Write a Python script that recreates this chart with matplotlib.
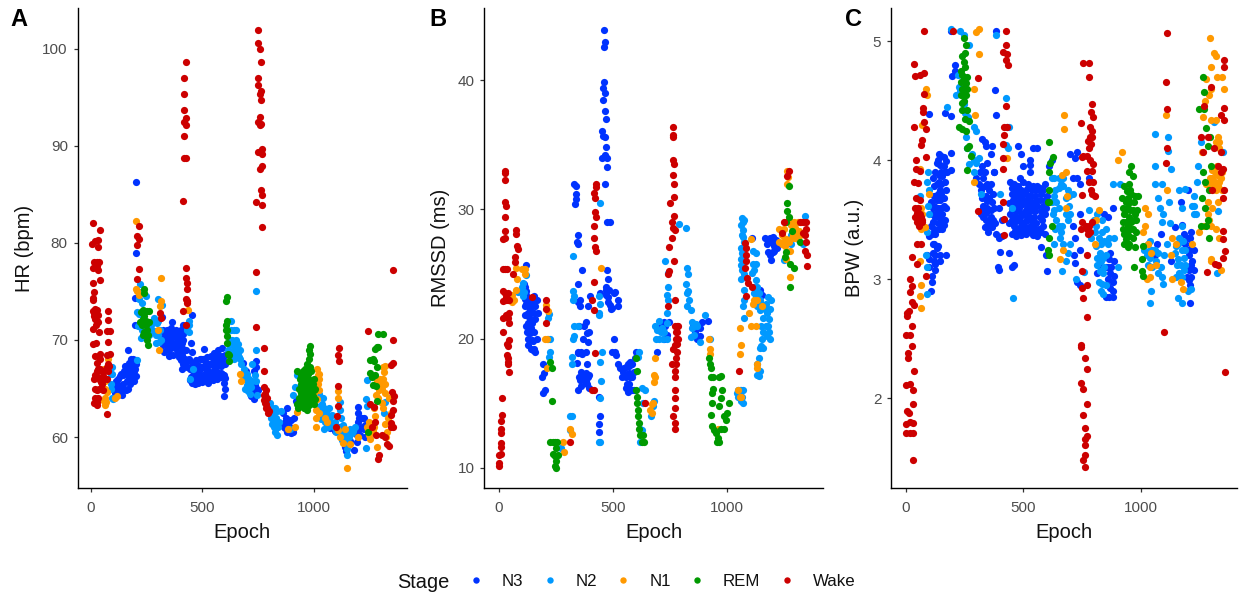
import matplotlib
matplotlib.use('Agg')
import matplotlib.pyplot as plt
from matplotlib.lines import Line2D

plt.rcParams['font.family'] = ['Liberation Sans', 'DejaVu Sans']

stages = ['N3', 'N2', 'N1', 'REM', 'Wake']
stage_colors = ['#0033FF', '#0099FF', '#FF9900', '#009900', '#CC0000']

# panel A, (epoch, HR)
hr_n3 = [(200,86.3),(200,79),(198,74.3),(198,71.5),(165,69),(105,65),(110,64.5),(115,65.5),(120,66),(125,64.6),
    (130,65.3),(135,66.5),(140,64.3),(145,65.5),(150,66.8),(155,64.8),(160,65.8),(165,67),(165,65),(170,66.2),
    (175,67.2),(175,65.5),(180,68),(185,66.6),(185,67.5),(190,68),(195,66.8),(195,65.8),(200,67.5),(200,66.3),
    (320,72.4),(362,71.8),(455,72.6),(412,71.5),(320,70.5),(325,69.5),(330,68.8),(335,70),(340,71),(345,69.2),
    (350,68.3),(355,70.3),(360,71.2),(365,69.5),(370,68.5),(375,70.5),(380,71),(385,69.8),(390,68.8),(395,70.6),
    (400,69.5),(405,71),(410,68.5),(415,70),(405,67.9),(420,68),(415,67.5),(410,67),(425,69),(430,67.2),
    (447,69.7),(452,68.8),(440,68),(443,67),(448,66.2),(455,65.6),(460,67.4),(463,66.2),(468,65.5),(470,67.9),
    (475,66.8),(480,65.6),(483,67.3),(488,68),(492,66.4),(497,65.7),(500,67.2),(507,69.1),(505,68),(510,66.5),
    (515,65.9),(518,67.6),(522,68.2),(526,66.8),(530,66),(535,67.5),(538,68.3),(542,66.7),(547,65.9),(550,67.4),
    (553,68.7),(557,67),(560,66.2),(565,68.2),(568,67.3),(572,69),(575,66.4),(580,68.3),(583,67.3),(587,69.2),
    (590,66.5),(593,67.9),(597,66.4),(597,64.2),(600,65),(598,65.6),(600,66.1),(684,67.6),(695,66.8),(705,66),
    (715,65.4),(725,64.6),(739,67.8),(740,67.2),(730,66.8),(745,65),(750,64.8),(735,65.4),(720,64.2),(734,63.9),
    (860,62.5),(870,61.5),(880,60.5),(900,60.4),(905,60.5),(890,61.8),(880,63),(910,62),(870,60.9),(850,61.2),
    (920,63.7),(1095,60.6),(1075,60.9),(1198,63.1),(1205,62),(1200,61.5),(1215,61),(1210,60.2),(1190,60.8),(1195,59.5),
    (1140,59),(1145,58.6),(1230,61.2),(1225,62),(1230,60),(1150,60),(1165,59.6),(1180,58.7),(1120,61)]
hr_n3 += [(112,65.8),(118,64.8),(128,66.3),(133,64.9),(143,66.4),(148,65),(158,66.6),(152,67.3),(168,65.8),(172,67.6),
    (178,66.5),(182,67.2),(188,66),(192,67.4),(198,67),(203,67.9),(325,71),(332,70.4),(338,69.5),(343,70.5),
    (348,70),(352,69),(358,69.8),(362,70.6),(368,70.3),(372,69.4),(378,69.2),(383,70.4),(388,70.2),(392,69.5),
    (398,68.7),(402,70.4),(408,69.7),(412,70.6),(418,69),(422,67.6),(395,68.2),(402,68),(410,69.2),(445,65.9),
    (452,67.6),(458,66.4),(465,67),(472,66.2),(478,67.3),(485,66.3),(490,67),(495,68),(502,66.2),(508,67.3),
    (513,67.1),(520,66.5),(524,67.5),(528,67.4),(533,66.6),(537,66.4),(544,67.6),(548,68.1),(552,66.4),(555,67.9),
    (562,67.3),(566,66.7),(570,68),(577,67.5),(582,66.6),(586,68),(590,67.5),(595,68.4),(478,65.9),(505,65.8),
    (525,65.6),(545,66.3),(565,66),(585,66.2),(600,67.5),(600,68.5),(865,61),(875,62),(885,61.4),(895,61),
    (900,61.8),(1205,60.8),(1215,62),(1195,60.2),(1225,60.8),(1200,62.5)]
hr_n2 = [(742,75),(220,75.8),(245,74.5),(301,74.2),(205,72.9),(215,74.2),(225,74.9),(213,71.4),(230,71),(225,70.2),
    (270,71.5),(280,72),(285,70.9),(295,71.7),(300,70.5),(310,71),(320,73.6),(290,69.7),(305,69.8),(315,70),
    (430,71),(440,71.5),(440,70.8),(95,67.2),(95,66.5),(90,65.5),(95,64),(100,63.9),(208,67.9),(615,69),
    (625,68.5),(630,71),(630,72),(635,70),(640,69),(650,71),(650,70),(660,69.6),(670,69),(665,68.2),
    (640,68),(655,68.5),(675,67.5),(685,67),(700,66.5),(710,66),(720,65.2),(740,65.8),(745,64.3),(742,69),
    (725,67.5),(700,65.4),(690,66),(805,63.5),(815,63),(820,62.5),(810,62),(825,61.5),(830,60.9),(835,60.2),
    (830,62),(845,61.5),(855,62.7),(905,64.3),(915,65.2),(925,66.4),(930,63.2),(895,60.8),(1025,64.4),(1040,64),
    (1030,63.2),(1045,63),(1055,62.5),(1035,61.9),(1050,61.5),(1065,61),(1075,61.7),(1060,62.8),(1070,63),(1090,61),
    (1100,60.5),(1045,60.8),(1120,63.6),(1118,62.8),(1122,62),(1130,61.2),(1125,60.4),(1125,59.7),(1140,59.9),(1150,60.6),
    (1155,60),(1150,58.8),(1150,58.2),(1170,60.4),(1185,61),(1240,65.9),(1235,63.9),(1240,63.2),(1235,58.9),(1320,63.6),
    (1315,62.5),(460,67),(445,66)]
hr_n2 += [(625,70),(640,71),(645,69.5),(635,68.7),(625,69.5),(650,69),(660,68.7),(670,68),(680,66.5),(690,65),
    (705,64.7),(715,64.4),(725,65.8),(735,66.4),(812,61.3),(820,61),(828,60.5),(840,61),(815,62),(825,63),
    (835,62.7),(1038,63.4),(1048,62.3),(1040,62.8),(1058,62),(1058,61.3),(1068,62),(1080,62.3),(1085,61.4),(1095,61.5),
    (1105,61),(1130,60),(1135,60.7),(1145,59.4),(1160,60),(1165,60.8),(1175,60.6),(272,71),(285,72.3),(300,72),
    (262,70.5),(245,71),(90,66.5),(88,65),(215,72.7),(230,73.8),(292,70.5),(440,72)]
hr_n1 = [(200,82.3),(200,75.3),(215,74.6),(313,74),(313,76.4),(60,64.9),(65,65.8),(65,64),(65,63.3),(60,63.7),
    (60,67),(75,68),(110,64),(115,64.2),(205,75),(312,73.5),(300,71),(305,69),(430,74),(435,73.1),(668,66.5),
    (675,65.8),(885,60.8),(915,61),(925,62.6),(1015,67),(1025,66.5),(1020,65.5),(1025,64.8),(1015,63.9),(1000,64.5),
    (1010,62),(1010,61),(1025,62.5),(1050,62),(1060,61.6),(1110,64.7),(1110,64),(1110,60.7),(1120,60),(1130,59.4),
    (1150,56.8),(1165,59.3),(1140,60.8),(1200,60),(1240,61),(1250,61.5),(1255,59.8),(1270,63),(1285,59),(1275,62.2),
    (1285,65.8),(1295,64.8),(1300,66),(1310,67.2),(1305,65),(1305,63.5),(1320,65.5),(1315,66.7),(1320,61.3),(1325,60),
    (1335,62),(1327,60.5),(1320,67.3),(1280,64.3),(1340,64)]
hr_n1 += [(70,64.6),(62,65),(68,63.6),(1260,61.3),(1270,61),(1245,60.7),(1290,64),(1298,65.5),(1312,66),(1318,64.5),
    (1310,63),(1345,62.5),(1025,66),(1018,66.4),(1012,62.8),(1250,60.2),(1265,60.6)]
hr_rem = [(240,75.3),(238,74.8),(235,73.1),(225,72.9),(240,72.5),(250,73),(260,73),(220,71.8),(230,72),(245,71.5),
    (250,71),(235,70.5),(255,70.5),(255,69.5),(260,71.8),(610,74.4),(608,74),(605,71.5),(610,71),(612,70.4),
    (610,69.7),(615,68.6),(620,67.8),(925,66.8),(945,66.4),(960,67),(970,67.5),(980,68),(982,68.6),(985,69.4),
    (980,69),(935,65),(945,65.5),(955,65.8),(965,66.1),(975,66.5),(990,66.8),(925,63.4),(935,64),(945,64.5),
    (955,64.9),(965,65.2),(975,65.6),(985,65.9),(995,65.5),(1005,65),(930,63),(945,63.3),(955,63.6),(965,63.9),
    (975,64.3),(985,64.7),(995,64.2),(1005,63.9),(960,63),(975,63.2),(985,63.4),(970,62.8),(1000,63.4),(1310,70.6),
    (1290,70.6),(1275,69.1),(1285,69.3),(1290,69.3),(1255,67.9),(1265,68),(1270,67.8),(1285,67.2),(1255,66.6),(1260,66.2),
    (1275,66.4),(1265,65.4),(1280,65.3),(1285,63.7),(1245,60.5)]
hr_rem += [(232,72.2),(238,71.8),(242,73),(228,71.5),(248,72),(240,70.8),(250,70),(235,72.8),(940,66),(950,65),
    (960,66.5),(970,65),(980,65),(940,63.8),(950,64),(960,64.5),(970,64),(980,64),(990,64),(990,65.3),
    (965,63.3),(955,63),(950,66.8),(985,67.2),(1000,66),(975,67),(1000,64.8),(612,72),(605,71),(620,68.5)]
hr_wake = [(9,82),(39,81.3),(33,80.3),(3,79.9),(18,80.2),(33,79.6),(25,78),(15,78),(37,78),(7,77.4),
    (25,77.6),(33,77.2),(39,76.2),(9,75.9),(15,74.9),(9,74.3),(7,74.1),(25,73.1),(15,72.8),(33,72.6),
    (18,72.2),(33,71.9),(7,71.1),(37,70.8),(22,69.7),(7,69.6),(40,68.6),(18,68.3),(28,67.6),(18,66.4),
    (33,66.2),(40,65.9),(25,64.8),(33,64),(28,63.3),(15,63.5),(76,73),(76,72.1),(85,70.9),(73,70.9),
    (76,69.8),(85,68.6),(70,68.5),(78,67.5),(60,66.8),(76,66.8),(55,66.3),(70,66),(50,65.5),(70,62.4),
    (215,81.7),(208,80.7),(215,80.4),(208,79.8),(215,77.3),(208,76.3),(313,72.3),(308,72.8),(425,71.5),(412,73),
    (427,74.2),(433,73.8),(427,98.6),(419,97),(419,95.3),(419,93.7),(427,92.9),(419,92.5),(427,92.1),(419,91),
    (419,88.7),(427,88.7),(412,84.3),(427,77.4),(427,76.4),(433,75.9),(433,75.2),(433,74),(748,101.9),(748,100.6),
    (757,100),(763,98.6),(748,97),(750,96.3),(763,95.7),(757,95.3),(763,94.7),(757,93),(748,92.5),(763,92.2),
    (757,92.1),(769,89.7),(748,89.4),(769,89.2),(769,87.9),(757,87.6),(763,85.5),(769,84.9),(742,84.2),(769,83.9),
    (769,81.6),(742,77),(1355,77.2),(743,71.3),(775,69.2),(775,66.8),(775,65.2),(785,64.8),(775,64.3),(790,64),
    (780,63.5),(785,63),(795,62.5),(1112,69.2),(1107,68.5),(1112,67.8),(1110,65.3),(1110,63.2),(1105,62.2),(1100,61),
    (1245,70.9),(1255,63.4),(1270,63.1),(1260,61),(1280,60.2),(1275,61.5),(1290,57.7),(1295,58.2),(1330,59.3),(1337,59.1),
    (1355,70),(1355,67.6),(1348,67.4),(1350,64.6),(1360,64.2),(1355,63.7),(1355,62.8),(1345,62.3),(1345,61.4),(1355,61),
    (1345,61),(1305,60.2),(1320,60)]
hr_wake += [(12,72.5),(20,73.2),(28,72),(10,73),(22,71.5),(15,66),(25,66.8),(35,65),(45,65.7),(55,64.8),
    (20,65),(30,67),(40,67),(20,64),(25,63.6),(50,66.8),(60,66),(72,67.2),(80,67.3),(42,68),(782,64.4),
    (778,63.8),(788,63.4),(785,64),(792,63),(800,62.7)]

# panel B, (epoch, RMSSD)
rm_n3 = [(459,43.9),(467,43),(460,42.6),(462,39.9),(455,39.4),(463,39),(456,38.5),(465,37.6),(470,37),(452,36.1),
    (455,35.7),(465,35.6),(468,34.8),(450,34),(463,34.2),(472,34),(473,33.3),(465,32),(330,32),(337,31.8),(337,31.2),
    (338,30.8),(333,30.4),(347,28),(344,27.5),(347,27.3),(475,29),(485,29),(475,25.3),(477,24.6),(470,24),(468,23.4),
    (480,23.2),(478,22.8),(485,22.6),(490,22.3),(470,23.8),(345,24.2),(362,25.3),(347,22.8),(355,23),(355,22.5),
    (120,25.7),(115,24),(120,23.7),(115,23.1),(130,23),(120,22.7),(115,22.5),(115,21.8),(120,21),(122,20.5),
    (130,20.7),(125,20),(128,19.5),(135,21.3),(140,20.8),(145,21.2),(155,20.5),(150,19.8),(150,19.1),(160,19),
    (155,23.3),(160,22.5),(170,22),(145,22.5),(165,23),(195,18),(197,17.3),(190,17),(200,16),(195,15.8),
    (340,18.1),(350,21),(345,19),(345,18.9),(360,19),(372,21),(383,21.3),(385,20.4),(390,19.7),(362,18.8),
    (385,18),(382,17.3),(350,17),(345,16),(360,16.3),(370,17.2),(395,17.2),(395,16.2),(380,16.7),(440,15.5),
    (445,14),(440,13.4),(438,12.8),(505,20),(497,19),(510,19),(515,18.7),(520,18),(530,17.7),(545,17.4),
    (555,16.2),(570,17.9),(580,18),(560,17.2),(570,16.5),(575,17),(585,16),(595,18.5),(590,16),(600,19),
    (400,23.3),(390,22.5),(442,23.5),(520,22.5),(522,23),(510,23.6),(497,22.4),(505,23.5),(695,19),(710,21),
    (730,21),(735,20.3),(725,20),(725,21.3),(745,21.3),(850,21),(860,20.5),(870,20),(880,20.2),(880,20.8),(890,21.3),
    (915,21.4),(1145,23.8),(1155,23.4),(1110,27.8),(1165,27.8),(1190,27.8),(1195,27.5),(1205,27.2),(1215,27.6),
    (1220,27),(1200,26.7),(1195,26.1)]
rm_n3 += [(125,22),(135,22.3),(130,21.7),(140,22.7),(150,23),(155,22),(160,21.5),(125,21.2),(135,20.4),(145,19.9),
    (155,19.2),(140,19.2),(165,20),(110,24.2),(118,23.4),(540,17),(550,17.7),(555,17),(560,16.5),(565,18),
    (575,16),(580,17),(565,15.9),(555,17.8),(570,17.3),(585,17),(575,18.2),(585,18),(590,17.4),(355,16.8),
    (375,16.7),(385,16.5),(390,17),(360,17.4),(475,23.7),(482,23.8),(370,20),(395,20.5),(380,19),(1175,27.3),
    (1180,26.7),(1190,26.5),(1205,26.8),(1185,27.5),(1200,27.9)]
rm_n2 = [(325,26.4),(325,23.7),(330,23.3),(325,23),(445,30.5),(440,23.3),(440,22),(440,21.8),(120,24.9),(100,24),
    (105,23.3),(85,23.6),(95,23.7),(110,23.6),(105,24.3),(330,21),(345,21),(330,20.2),(325,20),(322,18.6),
    (320,18),(445,22.7),(450,19),(445,18.2),(447,16.7),(445,15.4),(442,12),(440,12),(215,20),(225,20),
    (225,19),(218,18.6),(215,21.6),(220,21.9),(310,14),(318,14),(310,12.9),(272,11.5),(615,19),(610,18.6),
    (625,16.2),(640,16),(630,15),(620,13),(625,12.9),(617,12),(665,14),(680,15.2),(675,14.8),(690,20),
    (685,21),(700,21.4),(700,20),(710,20.5),(720,20),(735,20),(735,22),(740,23),(740,24),(740,25.1),
    (730,26),(735,23.4),(790,28.9),(820,28.6),(825,25.5),(830,25),(820,24.2),(825,23.5),(835,23),(840,22.2),
    (845,21.3),(865,21.1),(855,20.3),(840,20.1),(880,19.7),(905,21.8),(925,20),(1050,16),(1060,16),(1070,16),
    (1050,15.5),(1060,15.2),(1070,15),(1065,29.3),(1075,29.2),(1060,28.8),(1070,28.4),(1065,28),(1075,27.5),(1060,27),
    (1070,26.7),(1060,26.2),(1075,26),(1065,25.3),(1060,24.6),(1080,24.8),(1075,23.8),(1075,23),(1072,22.5),(1075,21.6),
    (1115,26.8),(1125,26.6),(1115,25.8),(1110,25.1),(1125,24.5),(1120,24),(1125,23.2),(1130,22.5),(1145,23),(1145,22.2),
    (1160,21.6),(1170,21),(1180,21),(1185,20.5),(1190,20),(1155,20),(1150,19.4),(1145,19.3),(1140,18.5),(1130,18),
    (1130,17.2),(1145,17.5),(1140,17.1),(1190,22.3),(1195,23),(1180,23.2),(1170,22.7),(1280,28),(1300,28.5),(1340,29.5),
    (1335,27.3),(1250,26.1)]
rm_n2 += [(1068,29),(1072,27.9),(1065,26.6),(1062,25.7),(1075,25),(1055,16),(1065,15.5),(1045,15.8),(845,20.8),(855,21),
    (870,21),(1120,25.3),(1125,25.8),(1130,24),(1140,23.5),(1150,22.7),(1165,22.3),(1175,22),(1185,21.5),(1150,21),
    (1160,20.5),(1175,20.2),(1160,19.3),(695,20.7),(715,20.8),(725,20.5),(735,21.2),(825,22.5),(830,23.7),(1120,23.5),
    (1130,23.4),(1265,27.4),(1280,27.3),(1295,28.7),(1310,27.7)]
rm_n1 = [(75,25.5),(100,25.4),(115,25.4),(115,25),(80,24.6),(75,23.8),(55,23.4),(65,23),(55,22.8),(205,22.6),
    (215,22.1),(200,20),(210,20),(210,17.7),(448,25.5),(280,12),(283,11.2),(310,13),(320,12.6),(662,14.5),
    (672,14.9),(670,14.2),(675,15),(680,17.2),(682,17),(680,16.6),(683,18.5),(920,20),(925,19.2),(925,18.8),
    (960,13),(1050,16),(1055,15.5),(1060,15.5),(1055,20.8),(1060,19.5),(1055,18.8),(1120,23),(1125,21),(1130,18),
    (1130,17.7),(1105,27.7),(1115,22.7),(1105,21),(1155,22.5),(1130,23),(1095,22),(1230,27.5),(1240,28),(1250,28.5),
    (1255,27.2),(1265,33),(1268,32.5),(1262,32),(1270,29.2),(1290,28),(1305,28),(1310,29),(1320,28),(1285,27.8),
    (1275,26.8),(1260,26.2),(1275,24.8),(1230,28.5),(1245,27.5),(1325,29)]
rm_n1 += [(1280,28.8),(1295,29),(1300,27.8),(1315,28.3),(1260,27.7),(1250,27.3),(1240,27.3),(1270,27.5),(1300,28.6)]
rm_rem = [(225,18.2),(232,17.7),(232,15.2),(225,12),(235,12),(245,12),(255,12),(250,11.5),(235,11.1),(245,10.9),
    (260,11),(250,10.5),(245,10.1),(250,10),(600,18.5),(605,17.5),(600,16),(605,15.5),(605,15),(610,14.5),
    (610,14),(615,13.5),(612,13),(620,12.5),(630,12.5),(625,12),(635,12),(920,18.5),(925,18),(930,17.7),
    (930,17),(940,17),(940,16.1),(935,15.8),(935,15),(965,17),(975,17.1),(980,16),(975,15.4),(965,14.8),
    (930,14.1),(935,13.2),(945,12.9),(950,12.7),(960,12.3),(955,12),(965,12),(975,13),(985,13),(995,13.7),
    (1000,14.2),(1010,15),(985,14),(1270,31.8),(1265,30.5),(1262,29.9),(1270,29.4),(1260,29),(1285,28.3),(1260,26.7),
    (1255,26.3),(1275,25.8),(1295,25.5),(1275,24),(1320,27.5)]
rm_wake = [(0,10.1),(0,10.4),(0,11),(9,11.1),(9,11.6),(9,11.9),(9,12.7),(9,13),(9,13.6),(15,14.1),(15,15.4),
    (45,17.4),(41,18),(41,18.2),(37,18.7),(41,18.5),(41,19.4),(45,19.9),(37,19.6),(19,20.5),(45,21.2),(41,21.6),
    (19,21.6),(31,21.8),(45,22),(31,23),(19,22.9),(45,23),(26,23.5),(41,23.5),(26,33),(26,32.8),(26,32.3),(26,30.6),
    (32,30.3),(26,29.4),(76,28.4),(76,28.1),(26,28.3),(26,27.8),(19,27.7),(77,27.2),(82,26.9),(70,26.3),(70,25.9),
    (26,25.4),(19,25.4),(37,25.4),(60,25),(19,23.7),(30,23.2),(41,23),(145,23.2),(205,23),(205,22.3),(208,21.2),
    (310,12),(415,22.2),(420,18.9),(415,16),(410,16),(410,23),(425,32),(425,31.7),(418,31.3),(423,30.9),(420,29.8),
    (425,29.4),(418,28.7),(418,27.8),(420,27.1),(425,26.8),(415,24.4),(640,15),(740,22.5),(763,36.4),(763,35.8),
    (765,35.6),(762,33.8),(767,33.5),(762,32.7),(768,32),(768,31),(752,30.5),(768,29.5),(757,29),(765,28.6),
    (770,28.4),(757,27.8),(745,27.1),(767,26),(747,25.2),(742,25),(772,23),(770,21),(775,20),(770,19.5),
    (780,19),(760,18),(775,18),(770,17),(785,21),(785,20),(780,21),(770,16),(770,15.4),(770,14.6),
    (765,14),(770,13.5),(770,13),(1053,17.5),(1110,24),(1345,27.5),(1320,29),(1340,28),(1345,28.5),(1335,29),
    (1340,26.8),(1350,26.5),(1350,25.6),(1250,29),(1240,28.2),(1270,33),(1265,32.6)]
rm_wake += [(1080,27.4),(1082,27),(1082,26.5),(1085,26),(1080,25.5),(1088,24.7),(1090,24.3),(1085,23.3),(782,20.5),(778,20.5),
    (775,18.5),(780,19.6),(765,19.2),(770,17.5),(1345,29),(1335,28.2)]

# panel C, (epoch, BPW)
bp_n3 = [(100,4.39),(165,4.4),(192,4.37),(245,4.6),(207,4.75),(195,4.71),(190,4.06),(190,3.92),(210,4.8),(190,5.09),
    (380,4.59),(382,4.38),(385,5.09),(325,4.18),(335,4.15),(340,4.12),(365,4.12),(360,4.05),(375,3.9),
    (140,4.05),(150,4.04),(160,4.03),(130,3.98),(145,3.96),(160,3.95),(170,3.99),(125,3.9),(140,3.88),(155,3.87),
    (175,3.9),(115,3.85),(130,3.8),(150,3.8),(165,3.82),(170,3.75),(135,3.72),(150,3.72),(120,3.7),(160,3.68),
    (105,3.65),(120,3.62),(135,3.6),(150,3.6),(170,3.6),(110,3.55),(125,3.52),(145,3.52),(165,3.5),(105,3.45),
    (120,3.42),(140,3.42),(155,3.42),(100,3.36),(115,3.3),(125,3.38),(115,3.22),(135,3.28),(145,3.2),(125,3.2),
    (90,3.2),(100,3.17),(170,3.2),(120,3.15),(145,3.15),(100,3.1),(125,3.08),(110,3.03),(110,2.98),(105,2.9),
    (300,3.85),(325,3.95),(345,3.98),(375,3.9),(330,3.85),(345,3.8),(360,3.8),(320,3.75),(340,3.7),(355,3.68),
    (370,3.72),(330,3.62),(345,3.6),(360,3.58),(375,3.6),(320,3.55),(340,3.5),(355,3.47),(370,3.5),(395,3.6),
    (410,3.5),(410,3.36),(385,3.38),(395,3.35),(400,3.23),(390,3.1),(395,3.08),(450,3.1),(460,3.12),(440,3.22),
    (475,4.12),(500,3.95),(530,3.96),(490,4.05),(540,4.1),(560,4.1),(530,4),(485,3.85),(500,3.82),(530,3.9),
    (445,3.82),(460,3.8),(475,3.78),(490,3.75),(520,3.8),(540,3.78),(560,3.78),(590,3.8),(450,3.72),(470,3.7),
    (490,3.68),(510,3.72),(530,3.7),(550,3.7),(575,3.72),(600,3.7),(440,3.64),(460,3.62),(480,3.6),(500,3.63),
    (520,3.62),(540,3.6),(560,3.62),(585,3.62),(445,3.55),(465,3.53),(485,3.52),(505,3.54),(525,3.52),(545,3.52),
    (570,3.52),(590,3.55),(440,3.47),(460,3.45),(480,3.43),(500,3.46),(525,3.44),(545,3.43),(565,3.42),(585,3.45),
    (450,3.38),(470,3.36),(490,3.37),(510,3.38),(540,3.37),(560,3.36),(575,3.27),(595,3.2),(600,3.07),(610,3.95),
    (620,4),(730,4.07),(700,4.05),(720,4.02),(780,3.85),(710,3.85),(730,3.85),(740,3.8),(740,3.55),(710,3.45),
    (720,3.35),(740,3.25),(715,3.2),(720,3.14),(730,2.98),(740,2.95),(820,3.12),(815,3.05),(830,3.2),(845,3.55),
    (860,3.52),(880,3.6),(870,3.22),(860,3.1),(885,3.15),(870,3.05),(880,2.98),(880,2.9),(850,2.85),(865,2.85),
    (880,2.85),(855,2.95),(1060,3.2),(1070,3.3),(1085,3.38),(1145,3.44),(1170,3.65),(1175,3.46),(1185,3.38),(1200,3.35),
    (1215,3.3),(1205,3.2),(1220,3.15),(1200,3.1),(1215,3.02),(1205,2.99),(1210,2.8),(1225,3.25),(1215,3.4),(1130,3.15),
    (1200,3.75)]
bp_n3 += [(135,4),(150,3.9),(165,3.9),(140,3.82),(120,3.78),(145,3.75),(130,3.67),(145,3.67),(160,3.62),(115,3.6),
    (130,3.56),(155,3.55),(115,3.48),(135,3.47),(150,3.47),(160,3.46),(110,3.38),(120,3.3),(130,3.26),(125,3.13),(335,3.9),
    (315,3.9),(310,3.8),(335,3.78),(355,3.75),(325,3.68),(345,3.66),(365,3.65),(325,3.58),(340,3.56),(360,3.52),
    (330,3.52),(345,3.45),(365,3.44),(380,3.47),(335,3.44),(350,3.4),(450,3.77),(465,3.75),(480,3.72),(500,3.72),
    (515,3.76),(535,3.75),(555,3.75),(570,3.77),(585,3.75),(455,3.67),(475,3.65),(495,3.65),(515,3.67),(535,3.65),
    (555,3.66),(570,3.67),(590,3.67),(450,3.59),(470,3.57),(490,3.56),(510,3.58),(530,3.57),(550,3.57),(575,3.57),
    (595,3.6),(450,3.5),(470,3.49),(490,3.48),(510,3.49),(535,3.48),(555,3.47),(580,3.5),(465,3.41),(485,3.4),
    (505,3.42),(530,3.4),(555,3.4),(575,3.4),(590,3.38),(850,3.1),(860,3),(870,2.93),(865,3.17),(875,3.1),
    (885,3.03),(1200,3.25),(1210,3.25),(1215,3.12),(1205,3.08),(1225,3.08),(1195,3.02),(1210,2.95),(1210,3.35),(1190,3.3)]
bp_n2 = [(190,5.1),(230,5.09),(245,5.05),(270,4.97),(175,4.45),(215,4.55),(220,4.72),(225,4.62),(232,4.58),(245,4.47),
    (250,4.4),(265,4.36),(290,4.28),(296,4.25),(385,5.05),(425,4.52),(430,4.28),(440,4.28),(255,4.2),(260,4.1),
    (280,4.05),(290,4),(270,3.97),(300,3.98),(310,4.02),(290,3.9),(95,3.9),(90,3.82),(100,3.75),(60,3.7),
    (95,3.62),(100,3.55),(90,3.4),(85,3.2),(90,3.1),(90,2.88),(400,3.72),(320,3.72),(425,4.13),(435,4.1),
    (450,3.6),(620,3.85),(630,3.85),(650,3.85),(670,3.85),(635,3.75),(650,3.77),(670,3.78),(690,3.75),(710,3.72),
    (620,3.65),(630,3.58),(640,3.5),(650,3.45),(660,3.4),(680,3.68),(695,3.62),(700,3.55),(680,3.55),(665,3.45),
    (655,3.35),(670,3.3),(700,3.3),(690,3.22),(680,3.15),(665,3.07),(725,3),(760,3.06),(780,3.58),(800,3.5),
    (805,3.4),(790,3.35),(815,3.55),(835,3.5),(850,3.42),(865,3.35),(885,3.35),(905,3.1),(810,3.28),(830,3.3),
    (850,3.2),(830,3.15),(840,3.05),(820,2.98),(830,2.9),(850,2.95),(860,3.3),(880,3.8),(910,3.8),(1060,3.8),
    (1090,3.8),(1060,4.22),(1115,4.2),(1118,4.08),(1060,3.95),(1130,3.93),(1165,3.75),(1190,3.76),(1075,3.68),(1080,3.6),
    (1095,3.55),(1090,3.48),(1120,3.65),(1125,3.47),(1175,3.6),(1175,3.45),(1030,3.3),(1015,3.25),(1040,3.18),(1050,3.1),
    (1060,3.25),(1075,3.05),(1090,3.02),(1095,2.96),(1045,2.9),(1040,2.8),(1160,3.3),(1175,3.25),(1185,3.18),(1170,3.12),
    (1150,3.02),(1175,3.02),(1200,2.9),(1215,2.92),(1160,2.84),(1175,2.8),(1220,3.62),(1225,3.55),(1225,3.62),(1245,3.95),
    (1240,3.82),(1225,3.7),(1235,3.55),(1255,4.15),(1310,4.32),(1350,4.07),(1330,3.57),(1325,3.05),(455,2.84),(630,3.3)]
bp_n2 += [(630,3.7),(640,3.65),(625,3.55),(650,3.6),(635,3.42),(690,3.5),(695,3.7),(660,3.8),(810,3.45),(820,3.35),
    (835,3.4),(845,3.32),(825,3.22),(815,3.12),(840,3.18),(825,3.07),(845,3.1),(835,2.96),(840,2.88),(815,3.18),
    (1040,3.32),(1025,3.2),(1030,3.12),(1050,3.25),(1065,3.15),(1075,3.22),(1085,3.1),(1040,3.25),(1150,3.28),(1165,3.35),
    (1145,3.22),(1160,3.17),(1180,3.32),(1190,3.25),(1165,3.05),(1185,3.08),(1155,3.12),(1190,3.12),(1100,3.2),(1110,3.3)]
bp_n1 = [(85,4.6),(90,4.55),(70,4.3),(60,3.93),(100,3.72),(65,3.6),(70,3.55),(60,3.45),(80,3.44),(65,3.42),
    (60,3.15),(65,2.95),(60,2.86),(65,2.76),(300,5.08),(310,5.1),(310,4.89),(295,4.38),(290,4.6),(290,3.82),
    (430,4.02),(675,4.38),(675,4.26),(665,3.88),(680,3.9),(670,3.25),(655,3.17),(685,3.7),(680,3.6),(820,3.58),
    (810,3.5),(805,3.3),(920,4.07),(905,4),(1020,3.6),(1030,3.55),(1020,3.45),(1010,3.4),(1030,3.3),(1045,3.22),
    (1040,3.1),(1040,3.02),(1025,3),(1065,3.12),(1110,3.75),(1107,4.38),(1135,3.35),(1150,3.3),(1130,3.2),(1135,3),
    (1170,2.98),(1180,2.92),(1220,3.3),(1250,3.4),(1270,3.45),(1290,3.5),(1260,4.07),(1265,4.36),(1275,4.5),(1290,4.55),
    (1300,4.6),(1280,4.68),(1300,4.78),(1310,4.9),(1320,4.88),(1295,5.03),(1355,4.6),(1345,4.7),(1325,4.7),(1300,4.34),
    (1320,4.34),(1330,4.2),(1335,4.1),(1325,3.95),(1345,3.9),(1295,3.85),(1315,3.82),(1335,3.82),(1280,3.8),(1300,3.78),
    (1320,3.75),(1345,3.75),(1285,3.65),(1285,3.55),(1305,3.6),(1330,3.65),(1300,3.45),(1320,3.42),(1335,3.35),(1300,3.17),
    (1340,3.08),(1300,3.15)]
bp_n1 += [(1305,3.92),(1315,3.9),(1305,3.85),(1325,3.88),(1315,3.78),(1330,3.78),(1340,3.85),(1290,3.8),(1320,4.15),(1335,4.15)]
bp_rem = [(245,5.03),(255,4.97),(250,4.9),(240,4.88),(245,4.83),(235,4.75),(250,4.78),(260,4.7),(245,4.7),(235,4.66),
    (250,4.65),(260,4.6),(240,4.6),(255,4.55),(245,4.5),(240,4.48),(235,4.55),(260,4.42),(250,4.35),(270,4.33),
    (225,4.28),(240,4.26),(255,4.25),(270,4.12),(260,4.1),(275,4.04),(260,3.92),(610,4.15),(625,4.03),(615,3.98),
    (610,3.9),(610,3.75),(605,3.65),(610,3.65),(620,3.45),(610,3.35),(605,3.25),(610,3.2),(960,3.95),(950,3.9),
    (965,3.87),(950,3.8),(930,3.78),(960,3.72),(990,3.7),(920,3.68),(945,3.68),(970,3.65),(925,3.6),(945,3.6),
    (965,3.58),(985,3.58),(930,3.55),(950,3.52),(970,3.5),(925,3.48),(945,3.45),(965,3.42),(930,3.38),(950,3.36),
    (980,3.4),(930,3.3),(950,3.3),(975,3.27),(1010,3.28),(970,3.1),(1005,3.07),(1010,3.03),(1005,3.17),(1250,4.43),
    (1270,4.43),(1265,4.7),(1270,4.57),(1280,4.27),(1295,4.2),(1285,4.12),(1300,3.95),(1265,3.9),(1275,3.82),(1290,3.75),
    (1260,3.68),(1255,3.45),(1280,3.45),(1285,3.5),(1290,3.35),(1275,3.6)]
bp_rem += [(940,3.74),(955,3.75),(935,3.65),(955,3.65),(975,3.7),(935,3.58),(955,3.58),(975,3.55),(935,3.48),(960,3.48),
    (980,3.5),(940,3.4),(955,3.42),(935,3.34),(965,3.35),(945,3.27),(925,3.42),(240,4.72),(250,4.6),(245,4.55),(255,4.65),(238,4.42)]
bp_wake = [(0,1.71),(31,1.71),(17,1.71),(0,1.78),(17,1.8),(31,1.79),(6,1.89),(13,1.88),(31,1.95),(30,1.48),
    (30,2.07),(17,2.12),(0,2.11),(35,2.23),(10,2.34),(10,2.38),(24,2.44),(0,2.53),(17,2.53),(24,2.61),
    (6,2.69),(6,2.72),(14,2.73),(24,2.81),(35,2.78),(17,3),(17,2.89),(24,2.94),(85,3.03),(45,3.13),(24,3.19),
    (35,4.81),(78,5.09),(199,5.09),(426,5.09),(1112,5.07),(40,4.71),(60,4.72),(78,4.73),(78,4.56),(74,4.44),
    (71,4.41),(78,4.32),(35,4.28),(84,4.26),(67,4.17),(64,4.13),(84,4.03),(41,4),(41,3.93),(60,3.91),
    (35,3.82),(53,3.81),(41,3.68),(60,3.67),(45,3.56),(60,3.55),(50,3.5),(70,3.48),(45,3.3),(65,3.3),
    (308,4.69),(426,4.97),(415,4.91),(429,4.89),(426,4.84),(433,4.8),(426,4.46),(419,4.28),(430,4.28),(419,4.21),
    (412,4.14),(415,4.02),(412,3.93),(415,3.65),(419,3.51),(419,3.37),(308,3.57),(756,4.82),(781,4.82),(781,4.7),
    (794,4.47),(787,4.41),(798,4.36),(744,4.31),(784,4.28),(791,4.25),(784,4.2),(794,4.2),(777,4.16),(787,4.14),
    (781,4.1),(753,4.04),(770,4.04),(749,4.03),(784,4),(798,3.97),(770,3.91),(791,3.91),(798,3.82),(781,3.82),
    (787,3.75),(805,3.7),(791,3.72),(751,3.71),(749,3.48),(770,3.42),(784,3.4),(791,3.48),(744,3.42),(770,3.2),
    (751,3.07),(770,2.95),(751,2.93),(755,2.84),(770,2.68),(746,2.45),(746,2.43),(763,2.34),(770,2.25),(744,2.13),
    (755,2.08),(770,1.95),(755,1.86),(763,1.75),(770,1.68),(763,1.66),(763,1.61),(763,1.52),(755,1.48),(763,1.42),
    (1099,2.56),(1361,2.22),(1283,3.06),(1106,4.66),(1112,4.43),(1112,4.1),(1106,3.98),(1354,4.84),(1354,4.78),(1301,4.62),
    (1354,4.44),(1271,4.46),(1342,4.38),(1354,4.34),(1257,4.2),(1288,4.2),(1267,4.07),(1310,4.1),(1341,4.07),(1331,3.95),
    (1349,3.93),(1354,3.75),(1304,3.75),(1349,3.68),(1349,3.41),(1349,3.34),(1361,3.24),(1349,3.18),(1327,3.12),(1317,3.13)]
bp_wake += [(40,3.52),(50,3.55),(55,3.5),(45,3.48),(55,3.45),(65,3.52),(70,3.5),(50,3.6),(40,3.6),(60,3.48),
    (1342,3.9),(780,3.45),(775,3.38),(765,3.45)]

panels = [
    ('A', 10, 'HR (bpm)', [hr_n3, hr_n2, hr_n1, hr_rem, hr_wake], (77.5, 407), (-60.6, 1419), (54.75, 104.2), [60, 70, 80, 90, 100], 24),
    ('B', 429, 'RMSSD (ms)', [rm_n3, rm_n2, rm_n1, rm_rem, rm_wake], (484.3, 823), (-64.5, 1421), (8.43, 45.6), [10, 20, 30, 40], 440),
    ('C', 845, 'BPW (a.u.)', [bp_n3, bp_n2, bp_n1, bp_rem, bp_wake], (891, 1237), (-64, 1410), (1.246, 5.28), [2, 3, 4, 5], 855),
]

W, H = 1239, 595
fig = plt.figure(figsize=(W / 100, H / 100), dpi=100)

for letter, letter_x, ylabel, series, (left, right), xlim, ylim, yticks, label_x in panels:
    ax = fig.add_axes([left / W, (H - 488) / H, (right - left) / W, 480 / H])
    for pts, col in zip(series, stage_colors):
        ax.scatter([p[0] for p in pts], [p[1] for p in pts], s=27, color=col, linewidths=0, clip_on=False)
    ax.set_xlim(*xlim)
    ax.set_ylim(*ylim)
    ax.set_xticks([0, 500, 1000])
    ax.set_yticks(yticks)
    ax.spines['top'].set_visible(False)
    ax.spines['right'].set_visible(False)
    ax.spines['left'].set_linewidth(1.0)
    ax.spines['bottom'].set_linewidth(1.0)
    ax.tick_params(axis='x', length=3, width=0.9, labelsize=11, labelcolor='#4D4D4D', color='#333333', pad=6)
    ax.tick_params(axis='y', length=3, width=0.9, labelsize=11, labelcolor='#4D4D4D', color='#333333', pad=4)
    ax.set_xlabel('Epoch', fontsize=14.5, color='#111111')
    ax.xaxis.label.set_verticalalignment('center')
    ax.xaxis.set_label_coords(0.5, -44 / 480)
    ax.set_ylabel(ylabel, fontsize=14.5, color='#111111')
    ax.yaxis.label.set_verticalalignment('center')
    ax.yaxis.set_label_coords((label_x - left) / (right - left), 0.5)
    fig.text(letter_x / W, (H - 20) / H, letter, fontsize=17, fontweight='bold', va='center', ha='left')

fig.text(397 / W, (H - 582) / H, 'Stage', fontsize=14.4, va='center', color='#111111')
handles = [Line2D([], [], marker='o', linestyle='none', markersize=4.6, markeredgewidth=0, color=c) for c in stage_colors]
fig.legend(handles, stages, ncols=5, frameon=False, fontsize=12.2, loc='center left',
           bbox_to_anchor=(467.5 / W, (H - 581) / H), borderpad=0, borderaxespad=0,
           handlelength=1, handletextpad=1.03, columnspacing=1.05, labelcolor='#111111')

fig.savefig('out.png', dpi=100)
